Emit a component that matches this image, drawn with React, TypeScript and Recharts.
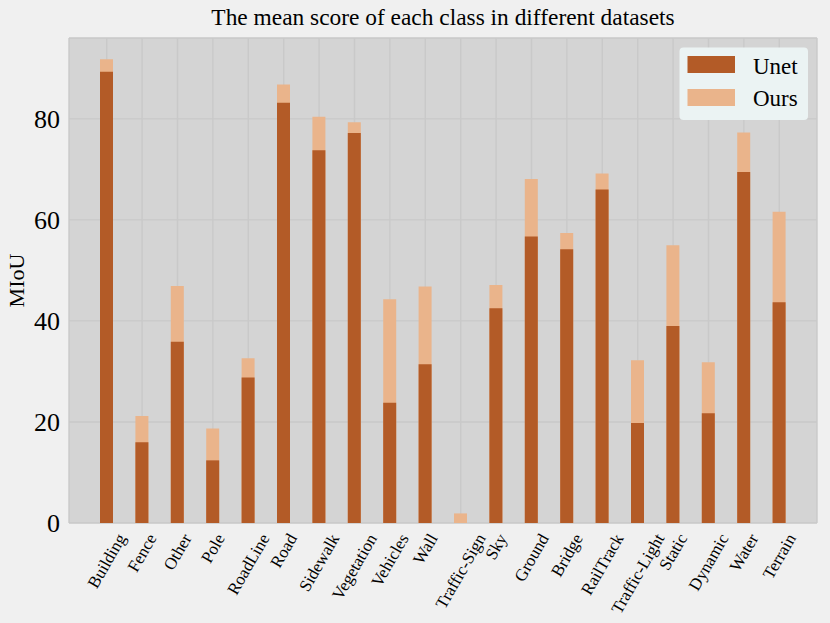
import React from 'react';
import { BarChart, Bar, XAxis, YAxis, CartesianGrid, Legend, Label } from 'recharts';

const classNames = [
  'Building', 'Fence', 'Other', 'Pole', 'RoadLine', 'Road', 'Sidewalk', 'Vegetation', 'Vehicles', 'Wall',
  'Traffic-Sign', 'Sky', 'Ground', 'Bridge', 'RailTrack', 'Traffic-Light', 'Static', 'Dynamic', 'Water', 'Terrain',
];
const unetScores = [89.3, 16.0, 35.9, 12.4, 28.8, 83.2, 73.8, 77.2, 23.8, 31.4, 0, 42.5, 56.7, 54.2, 66.0, 19.8, 39.0, 21.7, 69.5, 43.7];
const oursScores = [91.8, 21.2, 46.9, 18.7, 32.6, 86.8, 80.4, 79.3, 44.3, 46.8, 1.9, 47.1, 68.1, 57.4, 69.2, 32.2, 55.0, 31.8, 77.3, 61.6];
const yTicks = [0, 20, 40, 60, 80];

const legendItems = [
  { label: 'Unet', color: '#b35b27' },
  { label: 'Ours', color: '#eab48b' },
];

const data = classNames.map((name, i) => ({ name, unet: unetScores[i], ours: oursScores[i] }));

const FONT = '"Liberation Serif", "Times New Roman", serif';
const TICK_SIZE = 17;

let measureCtx: CanvasRenderingContext2D | null = null;
const textWidth = (text: string, size: number) => {
  if (!measureCtx) measureCtx = document.createElement('canvas').getContext('2d');
  if (!measureCtx) return text.length * size * 0.45;
  measureCtx.font = `${size}px ${FONT}`;
  return measureCtx.measureText(text).width;
};

// rotated label, centred like matplotlib's rotation=60 / ha='center'
const RotatedTick = (props: any) => {
  const { x, y, payload } = props;
  const w = textWidth(payload.value, TICK_SIZE);
  const xe = x + w / 4 + 4.9;
  const ye = y + 15;
  return (
    <text x={xe} y={ye} textAnchor="end" fontSize={TICK_SIZE} fontFamily={FONT} fill="#000" transform={`rotate(-60, ${xe}, ${ye})`}>
      {payload.value}
    </text>
  );
};

const LegendBox = () => (
  <svg width={130} height={74} style={{ display: 'block' }}>
    <rect x={0.5} y={0.5} width={128.5} height={72.5} rx={4} fill="#ebf3f3" />
    {legendItems.map((item, i) => (
      <g key={item.label}>
        <rect x={8.5} y={9 + i * 33} width={47.5} height={17} fill={item.color} />
        <text x={74} y={26.5 + i * 32.5} fontSize={23} fontFamily={FONT} fill="#000">
          {item.label}
        </text>
      </g>
    ))}
  </svg>
);

const App = () => {
  return (
    <div style={{ position: 'absolute', left: 0, top: 0, width: 830, height: 623, background: '#f0f0f0' }}>
      <svg width={830} height={40} style={{ position: 'absolute', left: 0, top: 0 }}>
        <text x={443} y={25} textAnchor="middle" fontSize={23.4} fontFamily={FONT} fill="#000">
          The mean score of each class in different datasets
        </text>
      </svg>
      <div style={{ position: 'absolute', left: 0, top: 0 }}>
        <BarChart
          width={830}
          height={623}
          data={data}
          margin={{ top: 38, right: 13, bottom: 0, left: 0 }}
          barSize={13}
          barGap={-13}
        >
          <CartesianGrid fill="#d4d4d4" stroke="#c9c9c9" strokeWidth={1.4} />
          <XAxis
            dataKey="name"
            height={100}
            padding={{ left: 20, right: 20 }}
            axisLine={false}
            tickLine={false}
            tickSize={0}
            tickMargin={0}
            interval={0}
            tick={<RotatedTick />}
          />
          <YAxis
            width={69}
            domain={[0, 96]}
            ticks={yTicks}
            axisLine={false}
            tickLine={false}
            tickSize={0}
            tickMargin={9}
            tick={{ fontSize: 26, fontFamily: FONT, fill: '#000' }}
          >
            <Label value="MIoU" angle={-90} position="center" dx={-18} fontSize={22} fontFamily={FONT} fill="#000" />
          </YAxis>
          <Legend
            layout="horizontal"
            verticalAlign="middle"
            align="center"
            content={<LegendBox />}
            wrapperStyle={{ left: 679, top: 47, width: 130, height: 74 }}
          />
          <Bar dataKey="ours" name="Ours" fill="#eab48b" isAnimationActive={false} />
          <Bar dataKey="unet" name="Unet" fill="#b35b27" isAnimationActive={false} />
        </BarChart>
      </div>
    </div>
  );
};

export default App;
